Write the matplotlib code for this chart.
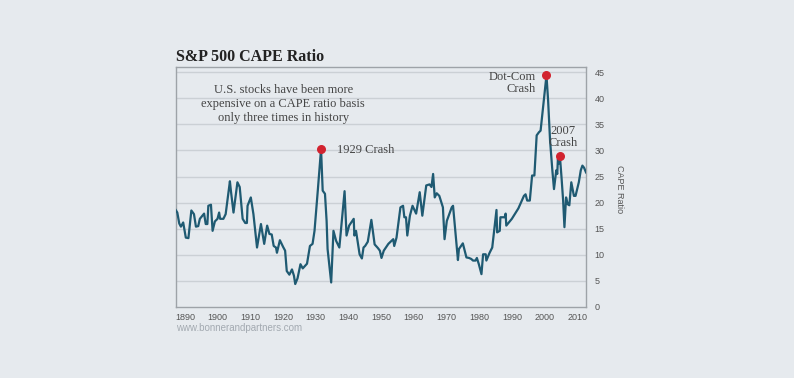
import matplotlib.pyplot as plt

# (year, CAPE)
years = [1887.1, 1887.6, 1888.2, 1888.7, 1889.4, 1890.2, 1891.0, 1891.9, 1892.7, 1893.3,
         1894.0, 1894.5, 1895.8, 1896.3, 1896.8, 1897.1, 1897.9, 1898.4, 1899.1, 1899.9,
         1900.4, 1900.7, 1901.7, 1902.4, 1903.7, 1904.0, 1904.8, 1906.0, 1906.7, 1907.6,
         1908.4, 1908.9, 1909.1, 1910.1, 1910.9, 1912.0, 1913.2, 1914.2, 1915.1, 1915.8,
         1916.5, 1917.1, 1917.8, 1918.1, 1919.0, 1920.0, 1920.6, 1921.1, 1921.9, 1922.7,
         1923.3, 1923.7, 1924.4, 1925.3, 1926.0, 1927.3, 1927.7, 1928.2, 1929.0, 1929.6,
         1930.6, 1931.6, 1932.1, 1932.8, 1933.3, 1933.6, 1934.7, 1935.4, 1936.2, 1937.2,
         1938.8, 1939.4, 1940.2, 1941.6, 1941.8, 1942.3, 1943.4, 1944.1, 1944.6, 1945.1,
         1945.9, 1947.0, 1948.0, 1949.0, 1949.6, 1950.1, 1950.8, 1952.2, 1953.7, 1954.0,
         1954.7, 1955.9, 1956.7, 1957.1, 1957.6, 1958.0, 1958.8, 1959.6, 1960.7, 1961.8,
         1962.6, 1963.8, 1964.8, 1965.4, 1965.9, 1966.4, 1967.0, 1967.8, 1968.9, 1969.4,
         1970.1, 1971.6, 1972.0, 1973.5, 1973.8, 1975.0, 1976.1, 1976.9, 1977.6, 1978.1,
         1978.9, 1979.3, 1979.9, 1980.7, 1981.2, 1982.0, 1982.2, 1983.2, 1984.0, 1985.3,
         1985.5, 1986.3, 1986.5, 1987.8, 1988.1, 1988.3, 1990.0, 1992.0, 1993.7, 1994.2,
         1994.7, 1995.5, 1996.2, 1996.9, 1997.6, 1998.3, 1998.8, 2000.6, 2001.1, 2001.7,
         2002.4, 2002.9, 2003.6, 2003.9, 2004.1, 2004.4, 2004.7, 2005.2, 2005.7, 2006.1,
         2006.6, 2007.1, 2007.6, 2008.2, 2009.0, 2009.5, 2010.5, 2011.1, 2011.6, 2012.1,
         2012.7]
cape = [18.6, 18.1, 16.0, 15.4, 16.2, 13.3, 13.2, 18.5, 17.8, 15.4,
        15.5, 16.9, 17.9, 15.9, 15.9, 19.4, 19.6, 14.6, 16.4, 16.9,
        18.1, 16.9, 16.9, 17.8, 24.1, 22.3, 18.1, 23.9, 23.0, 16.9,
        16.1, 16.1, 19.4, 21.0, 17.8, 11.4, 15.9, 12.1, 15.6, 14.0,
        13.9, 11.7, 11.4, 10.4, 12.8, 11.5, 10.8, 6.9, 6.2, 7.2,
        6.0, 4.4, 5.5, 8.2, 7.4, 8.3, 9.8, 11.7, 12.1, 14.6,
        22.3, 30.3, 22.3, 21.7, 16.5, 11.1, 4.7, 14.6, 12.7, 11.4,
        22.2, 13.7, 15.6, 16.9, 13.7, 14.6, 10.1, 9.3, 11.4, 11.7,
        12.5, 16.7, 12.0, 11.3, 10.8, 9.4, 10.8, 12.1, 13.0, 11.7,
        13.3, 19.1, 19.4, 17.2, 17.2, 13.7, 17.5, 19.4, 17.9, 22.0,
        17.5, 23.3, 23.5, 23.0, 25.5, 21.0, 21.8, 21.3, 19.1, 13.0,
        16.5, 19.1, 19.4, 9.0, 11.1, 12.2, 9.5, 9.4, 9.2, 8.9,
        8.9, 9.4, 8.2, 6.3, 10.1, 10.1, 8.9, 10.4, 11.4, 18.6,
        14.3, 14.6, 17.2, 17.2, 17.9, 15.6, 16.9, 18.9, 21.3, 21.6,
        20.4, 20.4, 25.2, 25.2, 32.9, 33.5, 33.8, 44.4, 39.6, 31.9,
        26.2, 22.6, 26.2, 25.5, 28.4, 27.5, 29.0, 24.9, 20.4, 15.3,
        21.0, 19.7, 19.5, 23.9, 21.3, 21.3, 23.9, 26.2, 27.1, 26.7,
        25.8]

peak_years = [1931.6, 2000.6, 2004.7]
peak_vals = [30.3, 44.4, 29.0]

xticks = [1890, 1900, 1910, 1920, 1930, 1940, 1950, 1960, 1970, 1980, 1990, 2000, 2010]
yticks = [0, 5, 10, 15, 20, 25, 30, 35, 40, 45]

bg = '#e6eaee'
serif = ['Liberation Serif', 'DejaVu Serif']
sans = ['Liberation Sans', 'DejaVu Sans']

fig = plt.figure(figsize=(7.94, 3.78), dpi=100, facecolor=bg)
ax = fig.add_axes([176/794, 71/378, 410/794, 240/378])
ax.set_facecolor(bg)

ax.plot(years, cape, color='#1f5a72', lw=1.6, zorder=3)
ax.scatter(peak_years, peak_vals, s=30, color='#d2232f', zorder=4)

ax.set_xlim(1887.2, 2012.7)
ax.set_ylim(0, 46)
ax.set_xticks(xticks)
ax.set_yticks(yticks)
ax.yaxis.tick_right()
ax.yaxis.set_label_position('right')
ax.tick_params(axis='x', length=0, labelsize=6.5, labelcolor='#555555', pad=4)
ax.tick_params(axis='y', length=0, labelsize=6.5, labelcolor='#555555', pad=6)
for lab in ax.get_xticklabels() + ax.get_yticklabels():
    lab.set_family(sans)
for lab in ax.get_yticklabels():
    lab.set_horizontalalignment('left')
ax.set_ylabel('CAPE Ratio', rotation=270, fontsize=6.5, color='#555555', family=sans)
ax.yaxis.set_label_coords(1.092, 0.49)

for s in ax.spines.values():
    s.set_color('#9ea3a8')
    s.set_linewidth(1)
for v in yticks[1:]:
    ax.axhline(v, color='#cbd0d5', lw=1, zorder=1)

fig.text(176/794, 1 - 57/378, 'S&P 500 CAPE Ratio', fontsize=11.5, fontweight='bold',
         family=serif, color='#222222', va='center', ha='left')
fig.text(176/794, 1 - 328/378, 'www.bonnerandpartners.com', fontsize=7,
         family=sans, color='#a3aab1', va='center', ha='left')

ax.text(1920.0, 38.9, 'U.S. stocks have been more\nexpensive on a CAPE ratio basis\nonly three times in history',
        fontsize=9, family=serif, color='#444444', ha='center', va='center', linespacing=1.2)
ax.text(1936.6, 30.0, '1929 Crash', fontsize=9, family=serif, color='#444444',
        ha='left', va='center')
ax.text(1997.3, 42.9, 'Dot-Com\nCrash', fontsize=9, family=serif, color='#444444',
        ha='right', va='center', linespacing=1.0)
ax.text(2005.7, 32.6, '2007\nCrash', fontsize=9, family=serif, color='#444444',
        ha='center', va='center', linespacing=1.0)

fig.savefig('out.png', dpi=100, facecolor=bg)
